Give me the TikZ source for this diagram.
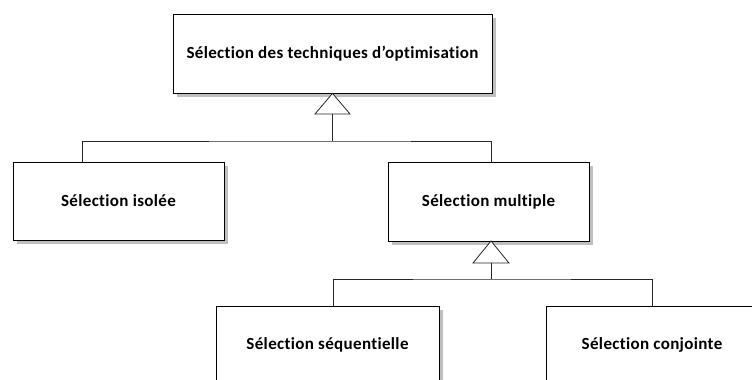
\documentclass[tikz,border=0pt]{standalone}
\usepackage{fontspec}
\setmainfont[Ligatures={NoCommon,NoRare},LetterSpace=2]{Carlito}
\begin{document}
\begin{tikzpicture}[x=1pt,y=-1pt,
  cls/.style={draw=black,line width=0.8pt,fill=white,inner sep=0pt,
    font=\fontsize{17}{19}\selectfont\bfseries},
  shadow/.style={fill=black!25,draw=none},
  conn/.style={draw=black!85,line width=0.8pt},
  gen/.style={draw=black!85,line width=0.8pt,fill=white}]
\useasboundingbox (0,0) rectangle (752,380);
% shadows
\fill[shadow] (177,18) rectangle (496,97);
\fill[shadow] (17,166) rectangle (228,244);
\fill[shadow] (392,166) rectangle (593,245);
\fill[shadow] (220,310) rectangle (443,390);
\fill[shadow] (550,310) rectangle (762,390);
% boxes
\node[cls,minimum width=319pt,minimum height=79pt] (top) at (332.5,53.5) {Sélection des techniques d’optimisation};
\node[cls,minimum width=211pt,minimum height=78pt] (iso) at (118.5,201) {Sélection isolée};
\node[cls,minimum width=201pt,minimum height=79pt] (mul) at (488.5,202) {Sélection multiple};
\node[cls,minimum width=223pt,minimum height=78pt] (seq) at (327.5,345) {Sélection séquentielle};
\node[cls,minimum width=212pt,minimum height=78pt] (conj) at (652,345) {Sélection conjointe};
% generalisation 1
\coordinate (t1) at (332.5,114);
\coordinate (h1) at (332.5,141);
\draw[gen] (top.south) -- (315,114) -- (350,114) -- cycle;
\draw[conn] (t1) -- (h1);
\draw[conn] (iso.north -| 82,0) |- (h1) -| (mul.north -| 491,0);
% generalisation 2
\coordinate (t2) at (491,263);
\coordinate (h2) at (491,279);
\draw[gen] (491,241) -- (473,263) -- (509,263) -- cycle;
\draw[conn] (t2) -- (h2);
\draw[conn] (seq.north -| 333,0) |- (h2) -| (conj.north);
\end{tikzpicture}
\end{document}
